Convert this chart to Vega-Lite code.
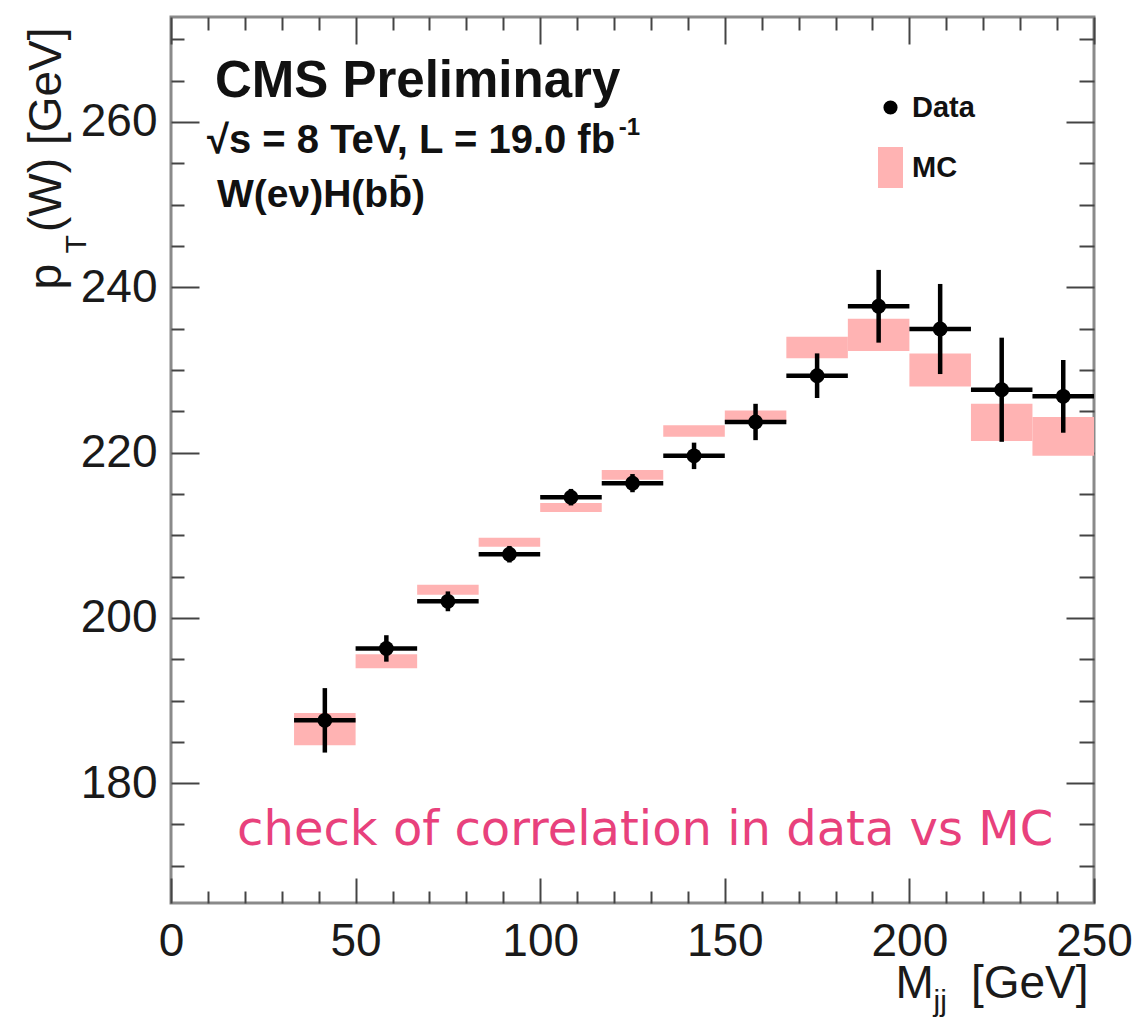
{
  "$schema": "https://vega.github.io/schema/vega-lite/v6.json",
  "width": 923,
  "height": 886,
  "autosize": {"type": "none"},
  "padding": {"left": 171, "top": 17, "right": 43, "bottom": 116},
  "background": "white",
  "config": {
    "view": {"stroke": "#8a8a8a", "strokeWidth": 3},
    "axis": {
      "domain": false,
      "grid": false,
      "tickColor": "#444444",
      "tickWidth": 2,
      "labelFont": "Liberation Sans",
      "labelFontSize": 46,
      "labelColor": "#1a1a1a",
      "labelFlush": false,
      "labelOverlap": false,
      "titleFont": "Liberation Sans",
      "titleFontWeight": "normal",
      "titleColor": "#1a1a1a",
      "titleFontSize": 46
    }
  },
  "datasets": {
    "pts": [
      {"lo": 33.33, "hi": 50, "mjj": 41.67, "pt": 187.6, "pt_lo": 183.7, "pt_hi": 191.5},
      {"lo": 50, "hi": 66.67, "mjj": 58.33, "pt": 196.3, "pt_lo": 194.7, "pt_hi": 197.9},
      {"lo": 66.67, "hi": 83.33, "mjj": 75, "pt": 202.0, "pt_lo": 200.8, "pt_hi": 203.2},
      {"lo": 83.33, "hi": 100, "mjj": 91.67, "pt": 207.7, "pt_lo": 206.7, "pt_hi": 208.7},
      {"lo": 100, "hi": 116.67, "mjj": 108.33, "pt": 214.6, "pt_lo": 213.6, "pt_hi": 215.6},
      {"lo": 116.67, "hi": 133.33, "mjj": 125, "pt": 216.3, "pt_lo": 215.2, "pt_hi": 217.4},
      {"lo": 133.33, "hi": 150, "mjj": 141.67, "pt": 219.6, "pt_lo": 218.0, "pt_hi": 221.2},
      {"lo": 150, "hi": 166.67, "mjj": 158.33, "pt": 223.7, "pt_lo": 221.5, "pt_hi": 225.9},
      {"lo": 166.67, "hi": 183.33, "mjj": 175, "pt": 229.3, "pt_lo": 226.6, "pt_hi": 232.0},
      {"lo": 183.33, "hi": 200, "mjj": 191.67, "pt": 237.7, "pt_lo": 233.3, "pt_hi": 242.1},
      {"lo": 200, "hi": 216.67, "mjj": 208.33, "pt": 234.95, "pt_lo": 229.5, "pt_hi": 240.4},
      {"lo": 216.67, "hi": 233.33, "mjj": 225, "pt": 227.6, "pt_lo": 221.3, "pt_hi": 233.9},
      {"lo": 233.33, "hi": 250, "mjj": 241.67, "pt": 226.8, "pt_lo": 222.4, "pt_hi": 231.2}
    ],
    "mc": [
      {"lo": 33.33, "hi": 50, "pt_lo": 184.6, "pt_hi": 188.5},
      {"lo": 50, "hi": 66.67, "pt_lo": 193.9, "pt_hi": 195.6},
      {"lo": 66.67, "hi": 83.33, "pt_lo": 202.8, "pt_hi": 204.0},
      {"lo": 83.33, "hi": 100, "pt_lo": 208.6, "pt_hi": 209.7},
      {"lo": 100, "hi": 116.67, "pt_lo": 212.8, "pt_hi": 213.9},
      {"lo": 116.67, "hi": 133.33, "pt_lo": 216.7, "pt_hi": 217.9},
      {"lo": 133.33, "hi": 150, "pt_lo": 221.9, "pt_hi": 223.3},
      {"lo": 150, "hi": 166.67, "pt_lo": 223.7, "pt_hi": 225.1},
      {"lo": 166.67, "hi": 183.33, "pt_lo": 231.4, "pt_hi": 234.0},
      {"lo": 183.33, "hi": 200, "pt_lo": 232.3, "pt_hi": 236.2},
      {"lo": 200, "hi": 216.67, "pt_lo": 228.0, "pt_hi": 232.0},
      {"lo": 216.67, "hi": 233.33, "pt_lo": 221.4, "pt_hi": 225.9},
      {"lo": 233.33, "hi": 250, "pt_lo": 219.6, "pt_hi": 224.3}
    ]
  },
  "layer": [
    {
      "data": {"name": "mc"},
      "mark": {"type": "rect"},
      "encoding": {
        "x": {
          "field": "lo", "type": "quantitative",
          "scale": {"domain": [0, 250], "nice": false, "zero": false},
          "axis": {
            "orient": "bottom", "values": [0, 50, 100, 150, 200, 250], "tickSize": -25,
            "labelPadding": 41, "format": "d",
            "title": "[GeV]", "titleX": 917, "titleY": 94, "titleAlign": "right",
            "titleBaseline": "alphabetic", "titleAngle": 0
          }
        },
        "x2": {"field": "hi"},
        "y": {
          "field": "pt_lo", "type": "quantitative",
          "scale": {"domain": [165.5, 272.7], "nice": false, "zero": false},
          "axis": {
            "orient": "left", "values": [180, 200, 220, 240, 260], "tickSize": -28,
            "labelPadding": 42, "format": "d",
            "title": "(W) [GeV]", "titleAngle": 270, "titleAlign": "right",
            "titleBaseline": "alphabetic", "titleX": -111, "titleY": 10
          }
        },
        "y2": {"field": "pt_hi"},
        "color": {
          "datum": "MC", "type": "nominal",
          "scale": {"domain": ["Data", "MC"], "range": ["#000000", "#ffb3b3"]},
          "legend": {
            "orient": "none", "legendX": 705, "legendY": 76, "title": null,
            "symbolSize": 1681, "rowPadding": 21, "labelOffset": 7,
            "labelFont": "Liberation Sans", "labelFontWeight": "bold", "labelFontSize": 29,
            "labelColor": "#111111",
            "encode": {
              "symbols": {
                "update": {
                  "shape": {"signal": "datum.value === 'MC' ? 'M-0.61,-1H0.61V1H-0.61Z' : 'circle'"},
                  "size": {"signal": "datum.value === 'MC' ? 1681 : 200"},
                  "fill": {"signal": "datum.value === 'MC' ? '#ffb3b3' : '#000000'"},
                  "stroke": {"value": "transparent"},
                  "opacity": {"value": 1},
                  "fillOpacity": {"value": 1}
                }
              }
            }
          }
        }
      }
    },
    {
      "data": {"name": "pts"},
      "mark": {"type": "rule", "strokeWidth": 4.5, "color": "#000000"},
      "encoding": {
        "x": {
          "field": "lo", "type": "quantitative",
          "axis": {
            "orient": "bottom",
            "values": [10, 20, 30, 40, 60, 70, 80, 90, 110, 120, 130, 140, 160, 170, 180, 190, 210, 220, 230, 240],
            "tickSize": -12, "labels": false,
            "title": "M", "titleX": 724, "titleY": 94, "titleAlign": "left",
            "titleBaseline": "alphabetic", "titleAngle": 0
          }
        },
        "x2": {"field": "hi"},
        "y": {
          "field": "pt", "type": "quantitative",
          "axis": {
            "orient": "left",
            "values": [170, 175, 185, 190, 195, 205, 210, 215, 225, 230, 235, 245, 250, 255, 265, 270],
            "tickSize": -13, "labels": false,
            "title": "p", "titleAngle": 270, "titleAlign": "left",
            "titleBaseline": "alphabetic", "titleX": -111, "titleY": 272
          }
        }
      }
    },
    {
      "data": {"name": "pts"},
      "mark": {"type": "rule", "strokeWidth": 4.5, "color": "#000000"},
      "encoding": {
        "x": {
          "field": "mjj", "type": "quantitative",
          "axis": {
            "orient": "top", "values": [0, 50, 100, 150, 200, 250], "tickSize": -27, "labels": false,
            "title": "jj", "titleFontSize": 30, "titleX": 762, "titleY": 993, "titleAlign": "left",
            "titleBaseline": "alphabetic", "titleAngle": 0
          }
        },
        "y": {
          "field": "pt_lo", "type": "quantitative",
          "axis": {
            "orient": "right", "values": [180, 200, 220, 240, 260], "tickSize": -28, "labels": false,
            "title": "T", "titleFontSize": 30, "titleAngle": 270, "titleAlign": "left",
            "titleBaseline": "alphabetic", "titleX": -1009, "titleY": 236
          }
        },
        "y2": {"field": "pt_hi"}
      }
    },
    {
      "data": {"name": "pts"},
      "mark": {"type": "point", "shape": "circle", "filled": true, "size": 220, "opacity": 1},
      "encoding": {
        "x": {
          "field": "mjj", "type": "quantitative",
          "axis": {
            "orient": "top",
            "values": [10, 20, 30, 40, 60, 70, 80, 90, 110, 120, 130, 140, 160, 170, 180, 190, 210, 220, 230, 240],
            "tickSize": -13, "labels": false, "title": null
          }
        },
        "y": {
          "field": "pt", "type": "quantitative",
          "axis": {
            "orient": "right",
            "values": [170, 175, 185, 190, 195, 205, 210, 215, 225, 230, 235, 245, 250, 255, 265, 270],
            "tickSize": -15, "labels": false, "title": null
          }
        },
        "color": {"datum": "Data", "type": "nominal"}
      }
    },
    {
      "data": {"values": [{}]},
      "mark": {"type": "text", "align": "left", "baseline": "alphabetic", "font": "Liberation Sans", "fontWeight": "bold", "fontSize": 51, "color": "#111111"},
      "encoding": {
        "x": {"datum": 11.9, "type": "quantitative", "axis": null},
        "y": {"datum": 263.0, "type": "quantitative", "axis": null},
        "text": {"value": "CMS Preliminary"}
      }
    },
    {
      "data": {"values": [{}]},
      "mark": {"type": "text", "align": "left", "baseline": "alphabetic", "font": "Liberation Sans", "fontWeight": "bold", "fontSize": 40, "color": "#111111"},
      "encoding": {
        "x": {"datum": 9.75, "type": "quantitative", "axis": null},
        "y": {"datum": 256.25, "type": "quantitative", "axis": null},
        "text": {"value": "√s = 8 TeV, L = 19.0 fb"}
      }
    },
    {
      "data": {"values": [{}]},
      "mark": {"type": "text", "align": "left", "baseline": "alphabetic", "font": "Liberation Sans", "fontWeight": "bold", "fontSize": 24, "color": "#111111"},
      "encoding": {
        "x": {"datum": 121.3, "type": "quantitative", "axis": null},
        "y": {"datum": 258.4, "type": "quantitative", "axis": null},
        "text": {"value": "-1"}
      }
    },
    {
      "data": {"values": [{}]},
      "mark": {"type": "text", "align": "left", "baseline": "alphabetic", "font": "Liberation Sans", "fontWeight": "bold", "fontSize": 39, "color": "#111111"},
      "encoding": {
        "x": {"datum": 12.46, "type": "quantitative", "axis": null},
        "y": {"datum": 249.7, "type": "quantitative", "axis": null},
        "text": {"value": "W(eν)H(bb̄)"}
      }
    },
    {
      "data": {"values": [{}]},
      "mark": {"type": "text", "align": "left", "baseline": "alphabetic", "font": "DejaVu Sans", "fontSize": 48, "color": "#e8417c"},
      "encoding": {
        "x": {"datum": 17.9, "type": "quantitative", "axis": null},
        "y": {"datum": 172.5, "type": "quantitative", "axis": null},
        "text": {"value": "check of correlation in data vs MC"}
      }
    }
  ],
  "resolve": {"axis": {"x": "independent", "y": "independent"}}
}
